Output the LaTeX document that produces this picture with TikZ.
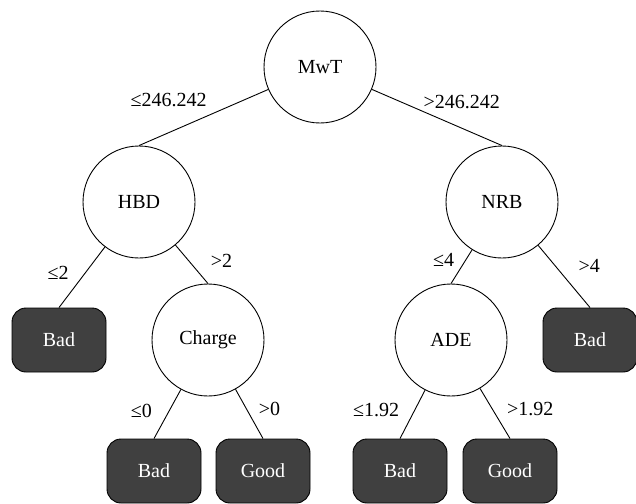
\documentclass[tikz,border=0pt]{standalone}
\usepackage{fontspec}
\setmainfont{Liberation Serif}
\usetikzlibrary{shapes,arrows}
\definecolor{leafgray}{HTML}{404040}
\tikzset{
split/.style = {draw, fill=white, circle, minimum size=112pt, inner sep=0pt},
leaf/.style = {draw, fill=leafgray, text=white, rectangle, rounded corners=14pt,
    minimum width=94pt, minimum height=64pt},
cond/.style = {inner sep=3pt}
}

\begin{document}
\begin{tikzpicture}[line width=0.9pt, font=\fontsize{20}{24}\selectfont]
    \useasboundingbox (0,0) rectangle (636pt,-503pt);
    % We start by placing the tests
    \node at (320pt,-67pt) [split] (mwt) {MwT};
    \node [split, below of=mwt, xshift=-181pt, node distance=135pt] (hbd) {HBD};
    \node [split, below of=mwt, xshift=182pt, node distance=135pt] (nrb) {NRB};
    \node [split, below of=hbd, xshift=69pt, node distance=138pt] (charge) {Charge};
    \node [split, below of=nrb, xshift=-51pt, node distance=138pt] (ade) {ADE};

    % then the leaves
    \node [leaf, below of=hbd, xshift=-80pt, node distance=138pt] (bad1) {Bad};
    \node [leaf, below of=nrb, xshift=88pt, node distance=138pt] (bad4) {Bad};
    \node [leaf, below of=charge, xshift=-54pt, node distance=131pt] (bad2) {Bad};
    \node [leaf, below of=charge, xshift=55pt, node distance=131pt] (good1) {Good};
    \node [leaf, below of=ade, xshift=-51pt, node distance=131pt] (bad3) {Bad};
    \node [leaf, below of=ade, xshift=59pt, node distance=131pt] (good2) {Good};

    % Once the nodes are placed, the branches follow
    \draw (mwt) -- node [cond, pos=0.77, above=22pt] (c1) {≤246.242} (hbd.north);
    \draw (mwt) -- node [cond, pos=0.69, above=16pt] (c2) {>246.242} (nrb.north);
    \draw (hbd) -- node [cond, pos=0.43, left=13pt] (c3) {≤2} (bad1.north);
    \draw (hbd) -- node [cond, pos=0.4, right=19pt] (c4) {>2} (charge.north);
    \draw (nrb) -- node [cond, pos=0.31, left=8pt] (c5) {≤4} (ade.north);
    \draw (nrb) -- node [cond, pos=0.33, right=20pt] (c6) {>4} (bad4.north);
    \draw (charge) -- node [cond, pos=0.43, left=14pt] (c7) {≤0} (bad2.north);
    \draw (charge) -- node [cond, pos=0.4, right=9pt] (c8) {>0} (good1.north);
    \draw (ade) -- node [cond, pos=0.42, left=12pt] (c9) {≤1.92} (bad3.north);
    \draw (ade) -- node [cond, pos=0.42, right=11pt] (c10) {>1.92} (good2.north);
\end{tikzpicture}
\end{document}
